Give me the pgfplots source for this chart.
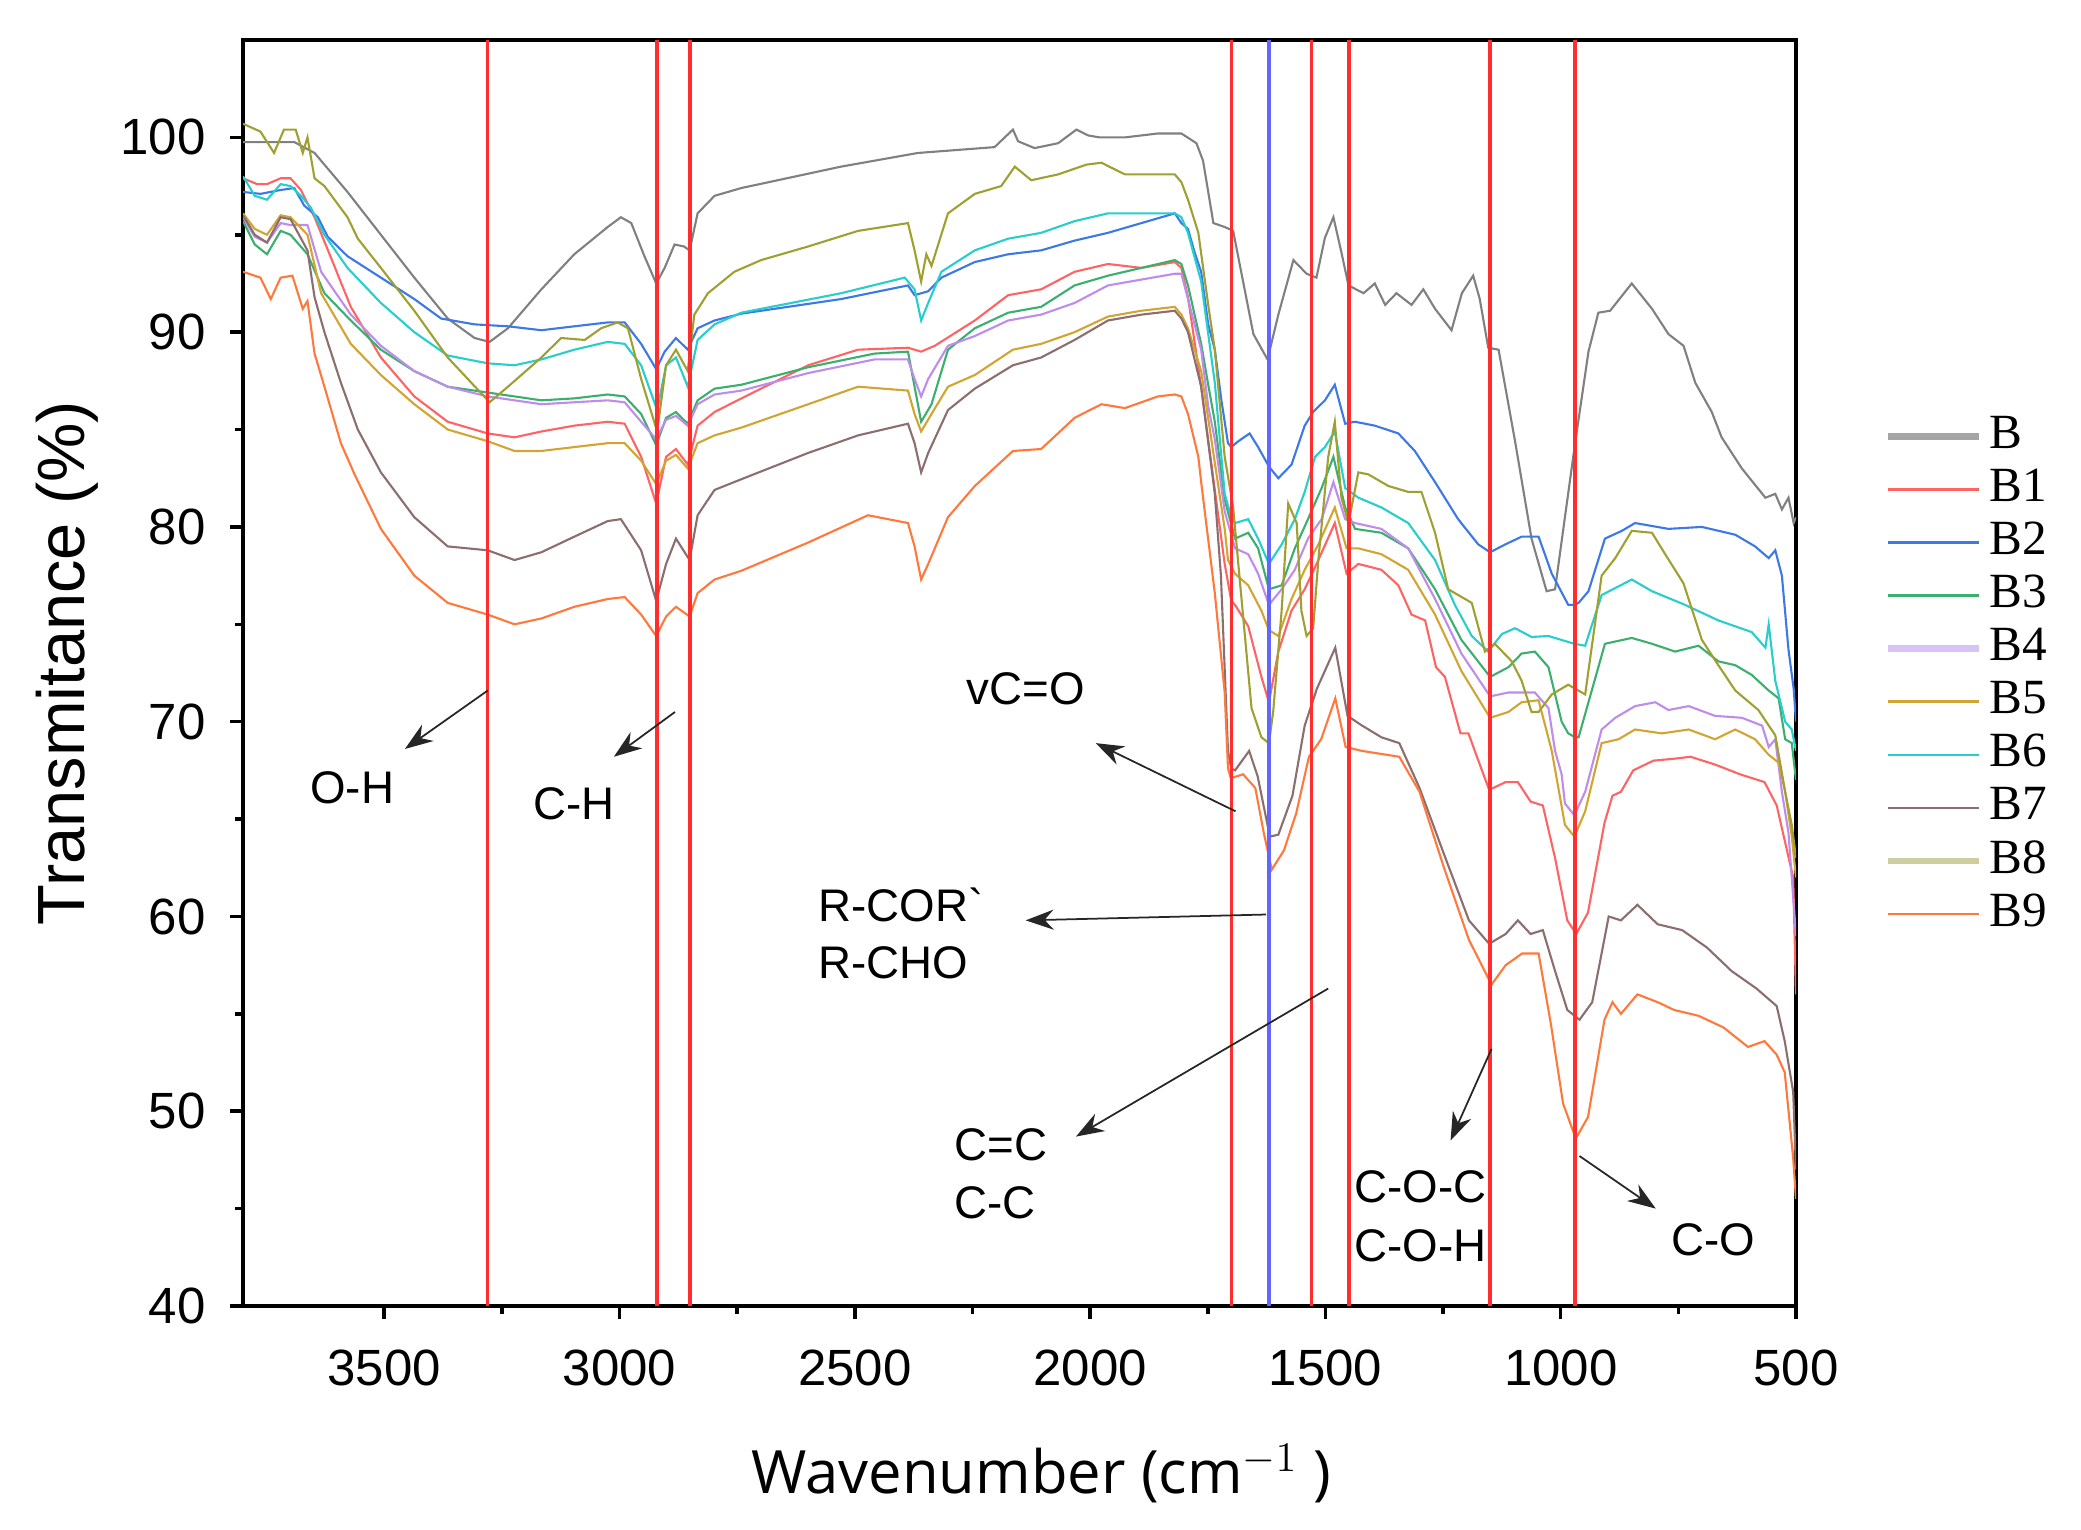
\documentclass[border=0pt]{standalone}
\usepackage{pgfplots}
\pgfplotsset{compat=1.18}
\usetikzlibrary{arrows.meta}
\usepackage{fontspec}
\setmainfont{Liberation Sans}
\newfontfamily\xlabfont{Open Sans}
\newfontfamily\legfont{Liberation Serif}
\definecolor{cB}{RGB}{128,128,128}
\definecolor{cB1}{RGB}{255,100,100}
\definecolor{cB2}{RGB}{60,120,230}
\definecolor{cB3}{RGB}{60,175,110}
\definecolor{cB4}{RGB}{190,140,235}
\definecolor{cB5}{RGB}{210,165,50}
\definecolor{cB6}{RGB}{40,205,205}
\definecolor{cB7}{RGB}{140,110,110}
\definecolor{cB8}{RGB}{160,160,50}
\definecolor{cB9}{RGB}{255,120,60}
\definecolor{lB}{RGB}{165,165,165}
\definecolor{lB4}{RGB}{215,195,245}
\definecolor{lB8}{RGB}{205,205,160}
\definecolor{vred}{RGB}{255,45,45}
\definecolor{vblue}{RGB}{100,100,255}
\begin{document}
\begin{tikzpicture}
\begin{axis}[
  scale only axis, width=155.3mm, height=126.6mm,
  x dir=reverse, xmin=500, xmax=3800, ymin=40, ymax=105,
  xtick={500,1000,...,3500}, ytick={40,50,...,100},
  minor x tick num=1, minor y tick num=1,
  tick align=outside, xtick pos=lower, ytick pos=left,
  major tick length=1.3mm, minor tick length=0.8mm,
  every tick/.style={black, line width=1pt},
  axis line style={line width=1.1pt},
  ticklabel style={font=\fontsize{14.5}{16}\selectfont},
  /pgf/number format/assume math mode=true,
  /pgf/number format/1000 sep={},
  xticklabel style={yshift=-1.8mm},
  yticklabel style={xshift=-1.2mm},
  xlabel={\xlabfont Wavenumber (cm$^{-1}$ )},
  ylabel={Transmitance (\%)},
  xlabel style={font=\fontsize{17}{20}\selectfont, at={(axis description cs:0.514,-0.1327)}, anchor=center},
  ylabel style={font=\fontsize{19}{22}\selectfont, at={(axis description cs:-0.113,0.508)}, anchor=center},
  legend style={at={(axis description cs:1.050,0.714)}, anchor=north west, draw=none, fill=none,
    font=\legfont\fontsize{14}{16}\selectfont, row sep=0pt,
    nodes={inner ysep=0pt, inner xsep=0.7mm, text height=11pt, text depth=4.1pt}},
  legend cell align=left,
  legend image code/.code={\draw[#1] (0mm,0mm) -- (9.1mm,0mm);},
  every axis plot/.append style={line width=0.6pt},
]
\coordinate (bbsw) at (axis description cs:-0.1565,-0.1769);
\coordinate (bbne) at (axis description cs:1.1835,1.0316);

% B
\addplot[cB, forget plot] coordinates {(3800,99.76)(3691,99.76)(3648,99.2)(3578,97.2)(3507,95.0)(3436,92.8)(3365,90.7)(3308,89.7)(3276,89.5)(3237,90.2)(3166,92.2)(3096,94.0)(3025,95.4)(2997,95.9)(2975,95.6)(2947,93.9)(2922,92.5)(2904,93.3)(2883,94.5)(2863,94.4)(2851,94.2)(2834,96.1)(2798,97.0)(2741,97.4)(2529,98.5)(2366,99.2)(2203,99.5)(2164,100.4)(2153,99.8)(2118,99.45)(2068,99.7)(2029,100.4)(2004,100.1)(1980,100.0)(1926,100.0)(1856,100.2)(1806,100.2)(1774,99.7)(1760,98.8)(1738,95.6)(1714,95.4)(1696,95.2)(1653,89.9)(1623,88.6)(1600,90.9)(1568,93.7)(1540,93.0)(1519,92.8)(1501,94.85)(1483,95.9)(1466,94.1)(1451,92.4)(1419,92.0)(1395,92.5)(1373,91.4)(1349,92.0)(1317,91.4)(1292,92.2)(1267,91.2)(1232,90.1)(1210,92.0)(1186,92.9)(1172,91.7)(1154,89.2)(1132,89.1)(1097,84.4)(1062,79.4)(1030,76.7)(1012,76.8)(991,80.5)(970,84.2)(941,89.0)(920,91.0)(895,91.1)(849,92.5)(806,91.2)(771,89.9)(739,89.3)(714,87.4)(679,85.9)(658,84.6)(615,83.0)(565,81.5)(544,81.7)(530,80.9)(516,81.5)(505,80.2)(500,80.5)};
% B1
\addplot[cB1, forget plot] coordinates {(3800,97.9)(3770,97.6)(3749,97.6)(3720,97.9)(3699,97.9)(3677,97.3)(3648,95.9)(3606,93.4)(3571,91.3)(3507,88.7)(3436,86.7)(3365,85.4)(3280,84.8)(3223,84.6)(3166,84.9)(3096,85.2)(3025,85.4)(2989,85.3)(2954,83.6)(2922,81.2)(2901,83.6)(2880,84.0)(2855,83.2)(2834,85.2)(2798,85.9)(2741,86.6)(2599,88.3)(2493,89.1)(2387,89.2)(2359,89.0)(2330,89.3)(2245,90.6)(2174,91.9)(2104,92.2)(2033,93.1)(1962,93.5)(1891,93.3)(1820,93.6)(1806,93.3)(1792,91.8)(1764,87.2)(1735,81.9)(1714,78.1)(1700,76.2)(1692,76.0)(1664,74.9)(1636,72.3)(1620,71.0)(1600,73.6)(1572,75.7)(1544,76.8)(1515,78.3)(1480,80.2)(1455,77.6)(1430,78.1)(1381,77.8)(1345,77.0)(1317,75.5)(1288,75.2)(1265,72.8)(1246,72.3)(1213,69.4)(1196,69.4)(1178,68.2)(1152,66.5)(1117,66.9)(1091,66.9)(1064,65.9)(1038,65.7)(1012,63.0)(986,59.8)(967,59.1)(942,60.2)(907,64.8)(890,66.2)(872,66.4)(846,67.5)(803,68.0)(759,68.1)(724,68.2)(672,67.8)(619,67.3)(567,66.9)(541,65.7)(524,63.9)(506,62.0)(500,56.0)};
% B2
\addplot[cB2, forget plot] coordinates {(3800,97.2)(3763,97.1)(3720,97.3)(3691,97.4)(3670,96.5)(3641,95.9)(3620,94.9)(3578,93.9)(3507,92.8)(3436,91.7)(3379,90.7)(3308,90.4)(3237,90.3)(3166,90.1)(3096,90.3)(3025,90.5)(2989,90.5)(2954,89.4)(2922,88.1)(2904,89.0)(2880,89.7)(2855,89.1)(2834,90.2)(2798,90.6)(2741,90.95)(2529,91.7)(2387,92.4)(2373,91.9)(2344,92.1)(2316,92.8)(2245,93.6)(2174,94.0)(2104,94.2)(2033,94.7)(1962,95.1)(1891,95.6)(1820,96.1)(1806,95.6)(1792,95.3)(1778,94.1)(1764,93.1)(1749,90.4)(1735,89.1)(1721,86.5)(1707,84.3)(1700,84.1)(1685,84.4)(1661,84.8)(1643,84.1)(1620,83.1)(1600,82.5)(1572,83.2)(1544,85.2)(1526,85.9)(1501,86.5)(1480,87.3)(1458,85.3)(1437,85.4)(1395,85.2)(1345,84.8)(1310,83.9)(1267,82.3)(1218,80.4)(1175,79.1)(1150,78.7)(1118,79.1)(1083,79.5)(1047,79.5)(1019,77.6)(984,76.0)(971,76.0)(962,76.1)(941,76.7)(906,79.4)(870,79.8)(842,80.2)(771,79.9)(700,80.0)(629,79.6)(587,79.0)(558,78.4)(544,78.8)(530,77.5)(516,73.7)(505,71.7)(500,70.0)};
% B3
\addplot[cB3, forget plot] coordinates {(3800,95.7)(3775,94.5)(3749,94.0)(3720,95.2)(3699,95.0)(3663,94.0)(3627,92.0)(3571,90.6)(3507,89.1)(3436,88.0)(3365,87.2)(3280,86.9)(3166,86.5)(3096,86.6)(3025,86.8)(2989,86.7)(2954,85.8)(2922,84.2)(2901,85.6)(2880,85.9)(2855,85.3)(2834,86.5)(2798,87.1)(2741,87.3)(2599,88.2)(2458,88.9)(2387,89.0)(2373,87.2)(2359,85.4)(2337,86.3)(2302,89.1)(2245,90.2)(2174,91.0)(2104,91.3)(2033,92.4)(1962,92.9)(1891,93.3)(1820,93.7)(1806,93.5)(1792,92.4)(1764,89.4)(1749,87.3)(1735,85.4)(1714,81.4)(1692,79.4)(1664,79.7)(1643,78.9)(1620,76.8)(1593,77.0)(1565,78.9)(1537,80.4)(1508,82.0)(1483,83.6)(1458,81.0)(1437,79.9)(1381,79.7)(1324,78.9)(1267,76.8)(1211,74.2)(1150,72.3)(1111,72.8)(1083,73.5)(1055,73.6)(1026,72.8)(998,70.0)(984,69.4)(969,69.2)(962,69.2)(934,71.6)(906,74.0)(849,74.3)(806,74.0)(757,73.6)(707,73.9)(665,73.1)(629,72.9)(594,72.4)(558,71.6)(537,71.2)(523,69.1)(509,68.9)(500,67.0)};
% B4
\addplot[cB4, forget plot] coordinates {(3800,95.9)(3775,94.9)(3749,94.6)(3720,95.6)(3699,95.5)(3663,95.5)(3634,93.1)(3571,90.9)(3507,89.3)(3436,88.0)(3365,87.2)(3280,86.7)(3166,86.3)(3096,86.4)(3025,86.5)(2989,86.4)(2954,85.4)(2922,84.5)(2901,85.5)(2880,85.7)(2855,85.2)(2834,86.3)(2798,86.8)(2741,87.0)(2599,87.9)(2458,88.6)(2387,88.6)(2373,87.6)(2359,86.7)(2344,87.6)(2302,89.3)(2245,89.8)(2174,90.6)(2104,90.9)(2033,91.5)(1962,92.4)(1891,92.7)(1820,93.0)(1806,93.0)(1792,91.7)(1764,89.1)(1749,86.2)(1735,84.5)(1714,80.8)(1692,78.9)(1664,78.6)(1643,77.6)(1620,76.0)(1593,76.8)(1565,77.8)(1537,79.4)(1508,80.4)(1483,82.3)(1458,80.4)(1437,80.2)(1381,79.9)(1324,78.9)(1267,76.3)(1211,73.5)(1150,71.3)(1111,71.5)(1055,71.5)(1026,70.7)(1012,68.5)(998,67.3)(991,65.8)(971,65.2)(948,66.4)(913,69.6)(884,70.2)(842,70.8)(799,71.0)(771,70.6)(728,70.8)(672,70.3)(615,70.2)(572,69.8)(558,68.7)(544,69.1)(530,66.4)(516,64.3)(500,59.0)};
% B5
\addplot[cB5, forget plot] coordinates {(3800,96.1)(3775,95.3)(3749,95.0)(3720,96.0)(3699,95.9)(3663,95.0)(3634,92.0)(3571,89.4)(3507,87.8)(3436,86.3)(3365,85.0)(3280,84.4)(3223,83.9)(3166,83.9)(3096,84.1)(3025,84.3)(2989,84.3)(2954,83.4)(2922,82.2)(2901,83.4)(2880,83.7)(2855,83.0)(2834,84.3)(2798,84.7)(2741,85.1)(2599,86.3)(2493,87.2)(2387,87.0)(2373,85.8)(2359,84.9)(2337,85.8)(2302,87.2)(2245,87.8)(2164,89.1)(2104,89.4)(2033,90.0)(1962,90.8)(1891,91.1)(1820,91.3)(1806,90.9)(1792,90.2)(1764,88.0)(1735,83.3)(1714,79.9)(1707,78.3)(1692,77.6)(1664,77.0)(1636,75.7)(1620,74.7)(1600,74.4)(1572,76.3)(1544,77.8)(1515,79.1)(1480,81.0)(1455,78.9)(1430,78.9)(1381,78.6)(1324,77.8)(1267,75.5)(1211,72.6)(1150,70.2)(1111,70.5)(1083,71.0)(1047,71.1)(1019,68.5)(991,64.7)(971,64.1)(948,65.4)(913,68.9)(877,69.1)(842,69.6)(785,69.4)(728,69.6)(672,69.1)(629,69.6)(587,69.1)(558,68.3)(537,67.9)(523,66.4)(509,64.1)(500,62.0)};
% B6
\addplot[cB6, forget plot] coordinates {(3800,98.0)(3775,97.0)(3749,96.8)(3720,97.6)(3699,97.5)(3677,97.0)(3656,96.4)(3627,95.0)(3578,93.3)(3507,91.5)(3436,90.0)(3365,88.8)(3280,88.4)(3223,88.3)(3166,88.6)(3096,89.1)(3025,89.5)(2989,89.4)(2954,88.3)(2920,86.0)(2901,88.3)(2880,88.7)(2855,87.2)(2834,89.6)(2798,90.4)(2741,91.0)(2529,92.0)(2394,92.8)(2373,92.2)(2359,90.6)(2344,91.5)(2316,93.1)(2245,94.2)(2174,94.8)(2104,95.1)(2033,95.7)(1962,96.1)(1891,96.1)(1820,96.1)(1806,95.9)(1792,95.1)(1764,92.6)(1735,87.4)(1714,81.7)(1700,80.5)(1692,80.2)(1664,80.4)(1643,79.4)(1620,78.1)(1593,79.1)(1565,80.4)(1544,81.8)(1522,83.6)(1501,84.1)(1480,84.9)(1458,82.0)(1430,81.5)(1381,81.0)(1324,80.2)(1267,78.3)(1225,76.0)(1189,74.4)(1154,73.6)(1125,74.5)(1097,74.8)(1062,74.35)(1026,74.4)(971,74.0)(948,73.9)(913,76.5)(849,77.3)(806,76.7)(736,76.0)(665,75.2)(594,74.6)(565,73.8)(558,75.0)(544,72.1)(523,70.0)(509,69.6)(500,68.5)};
% B7
\addplot[cB7, forget plot] coordinates {(3800,96.0)(3775,95.0)(3749,94.6)(3720,95.9)(3699,95.8)(3663,94.2)(3648,91.8)(3627,90.0)(3592,87.4)(3556,85.0)(3507,82.8)(3436,80.5)(3365,79.0)(3280,78.8)(3223,78.3)(3166,78.7)(3096,79.5)(3025,80.3)(2997,80.4)(2954,78.8)(2922,76.2)(2901,78.1)(2880,79.4)(2851,78.3)(2834,80.6)(2798,81.9)(2741,82.45)(2599,83.8)(2493,84.7)(2387,85.3)(2373,84.3)(2359,82.8)(2344,83.8)(2302,86.0)(2245,87.1)(2164,88.3)(2104,88.7)(2033,89.6)(1962,90.6)(1891,90.9)(1820,91.1)(1806,90.7)(1792,90.0)(1764,87.2)(1735,81.7)(1722,77.5)(1707,68.5)(1700,67.6)(1692,67.5)(1662,68.5)(1644,67.2)(1618,64.1)(1600,64.2)(1570,66.2)(1544,69.8)(1518,71.7)(1479,73.8)(1453,70.3)(1422,69.8)(1381,69.2)(1343,68.9)(1300,66.6)(1248,63.2)(1195,59.8)(1152,58.6)(1117,59.1)(1091,59.8)(1064,59.1)(1038,59.3)(1012,57.2)(986,55.2)(960,54.7)(933,55.6)(898,60.0)(872,59.8)(837,60.6)(794,59.6)(742,59.3)(689,58.4)(637,57.2)(584,56.3)(541,55.4)(524,53.6)(506,51.0)(500,47.0)};
% B8
\addplot[cB8, forget plot] coordinates {(3800,100.7)(3763,100.3)(3734,99.2)(3713,100.4)(3688,100.4)(3673,99.2)(3663,100.0)(3648,97.9)(3627,97.5)(3578,95.9)(3556,94.8)(3507,93.3)(3436,91.1)(3365,88.7)(3276,86.4)(3237,87.2)(3166,88.7)(3124,89.7)(3074,89.6)(3039,90.2)(3004,90.5)(2982,90.2)(2954,87.6)(2920,84.9)(2901,88.3)(2880,89.1)(2855,88.0)(2841,90.9)(2812,92.0)(2756,93.1)(2699,93.7)(2599,94.4)(2493,95.2)(2387,95.6)(2373,94.2)(2359,92.6)(2348,94.0)(2337,93.4)(2302,96.1)(2245,97.1)(2189,97.5)(2160,98.5)(2125,97.8)(2068,98.1)(2008,98.6)(1976,98.7)(1926,98.1)(1849,98.1)(1820,98.1)(1806,97.7)(1792,96.8)(1770,95.1)(1749,91.4)(1735,89.1)(1714,83.6)(1696,81.0)(1682,77.3)(1657,70.7)(1636,69.2)(1620,68.9)(1611,70.5)(1593,75.7)(1579,81.2)(1561,80.2)(1551,75.7)(1540,74.4)(1526,74.8)(1515,78.3)(1494,83.6)(1480,85.4)(1466,81.5)(1451,80.2)(1430,82.8)(1409,82.7)(1366,82.1)(1324,81.8)(1296,81.8)(1267,79.7)(1239,76.8)(1189,76.1)(1161,73.6)(1140,74.0)(1104,73.1)(1083,72.1)(1062,70.5)(1047,70.5)(1019,71.4)(984,71.9)(948,71.4)(913,77.5)(884,78.4)(849,79.8)(806,79.7)(778,78.6)(739,77.1)(700,74.2)(665,72.9)(629,71.6)(580,70.6)(544,69.3)(523,66.4)(509,64.7)(500,63.0)};
% B9
\addplot[cB9, forget plot] coordinates {(3800,93.1)(3763,92.8)(3741,91.7)(3720,92.8)(3695,92.9)(3673,91.2)(3663,91.6)(3648,88.9)(3627,87.2)(3592,84.3)(3563,82.7)(3507,79.9)(3436,77.5)(3365,76.1)(3280,75.5)(3223,75.0)(3166,75.3)(3096,75.9)(3025,76.3)(2989,76.4)(2954,75.5)(2922,74.4)(2901,75.4)(2880,75.9)(2851,75.4)(2834,76.6)(2798,77.3)(2741,77.75)(2599,79.2)(2472,80.6)(2387,80.2)(2373,79.0)(2359,77.3)(2344,78.1)(2302,80.5)(2245,82.1)(2164,83.9)(2104,84.0)(2033,85.6)(1976,86.3)(1926,86.1)(1856,86.7)(1820,86.8)(1806,86.7)(1792,85.8)(1770,83.6)(1764,82.3)(1735,76.6)(1714,71.5)(1707,67.6)(1701,67.1)(1675,67.3)(1649,66.6)(1631,64.3)(1614,62.4)(1588,63.4)(1562,65.3)(1535,68.2)(1509,69.1)(1479,71.2)(1457,68.7)(1422,68.5)(1343,68.2)(1300,66.4)(1248,62.5)(1195,58.8)(1147,56.5)(1117,57.5)(1082,58.1)(1047,58.1)(1021,54.5)(995,50.4)(968,48.6)(942,49.7)(907,54.7)(890,55.6)(872,55.0)(837,56.0)(794,55.6)(759,55.2)(707,54.9)(654,54.3)(602,53.3)(567,53.6)(541,52.9)(524,52.0)(506,47.6)(500,45.5)};

% reference lines
\addplot[vred, line width=1pt, forget plot] coordinates {(3280,40)(3280,105)};
\addplot[vred, line width=1pt, forget plot] coordinates {(2920,40)(2920,105)};
\addplot[vred, line width=1pt, forget plot] coordinates {(2850,40)(2850,105)};
\addplot[vred, line width=1pt, forget plot] coordinates {(1700,40)(1700,105)};
\addplot[vred, line width=1pt, forget plot] coordinates {(1530,40)(1530,105)};
\addplot[vred, line width=1pt, forget plot] coordinates {(1450,40)(1450,105)};
\addplot[vred, line width=1pt, forget plot] coordinates {(1150,40)(1150,105)};
\addplot[vred, line width=1pt, forget plot] coordinates {(970,40)(970,105)};
\addplot[vblue, line width=1.1pt, forget plot] coordinates {(1620,40)(1620,105)};

% legend
\addlegendimage{lB, line width=1.8pt}\addlegendentry{B}
\addlegendimage{cB1, line width=0.7pt}\addlegendentry{B1}
\addlegendimage{cB2, line width=0.7pt}\addlegendentry{B2}
\addlegendimage{cB3, line width=0.7pt}\addlegendentry{B3}
\addlegendimage{lB4, line width=1.8pt}\addlegendentry{B4}
\addlegendimage{cB5, line width=0.7pt}\addlegendentry{B5}
\addlegendimage{cB6, line width=0.7pt}\addlegendentry{B6}
\addlegendimage{cB7, line width=0.7pt}\addlegendentry{B7}
\addlegendimage{lB8, line width=1.8pt}\addlegendentry{B8}
\addlegendimage{cB9, line width=0.7pt}\addlegendentry{B9}

% annotations
\tikzset{annarrow/.style={draw=black!85, line width=0.5pt, -{Stealth[length=2.8mm,width=2mm]}},
         anntext/.style={font=\fontsize{13}{15}\selectfont, inner sep=0pt}}
\draw[annarrow] (axis cs:3280,71.6) -- (axis cs:3456,68.6);
\node[anntext] at (axis cs:3568,66.6) {O-H};
\draw[annarrow] (axis cs:2882,70.5) -- (axis cs:3012,68.2);
\node[anntext] at (axis cs:3097,65.8) {C-H};
\draw[annarrow] (axis cs:1691,65.4) -- (axis cs:1988,68.9);
\node[anntext] at (axis cs:2137,71.7) {vC=O};
\draw[annarrow] (axis cs:1626,60.1) -- (axis cs:2137,59.8);
\node[anntext, anchor=west] at (axis cs:2578,60.6) {R-COR\textasciigrave};
\node[anntext, anchor=west] at (axis cs:2578,57.6) {R-CHO};
\draw[annarrow] (axis cs:1494,56.3) -- (axis cs:2030,48.7);
\node[anntext, anchor=west] at (axis cs:2290,48.3) {C=C};
\node[anntext, anchor=west] at (axis cs:2290,45.3) {C-C};
\draw[annarrow] (axis cs:1147,53.2) -- (axis cs:1234,48.5);
\node[anntext, anchor=west] at (axis cs:1440,46.1) {C-O-C};
\node[anntext, anchor=west] at (axis cs:1440,43.1) {C-O-H};
\draw[annarrow] (axis cs:960,47.7) -- (axis cs:798,45.0);
\node[anntext] at (axis cs:675,43.4) {C-O};
\end{axis}
\pgfresetboundingbox
\path (bbsw) rectangle (bbne);
\end{tikzpicture}
\end{document}
